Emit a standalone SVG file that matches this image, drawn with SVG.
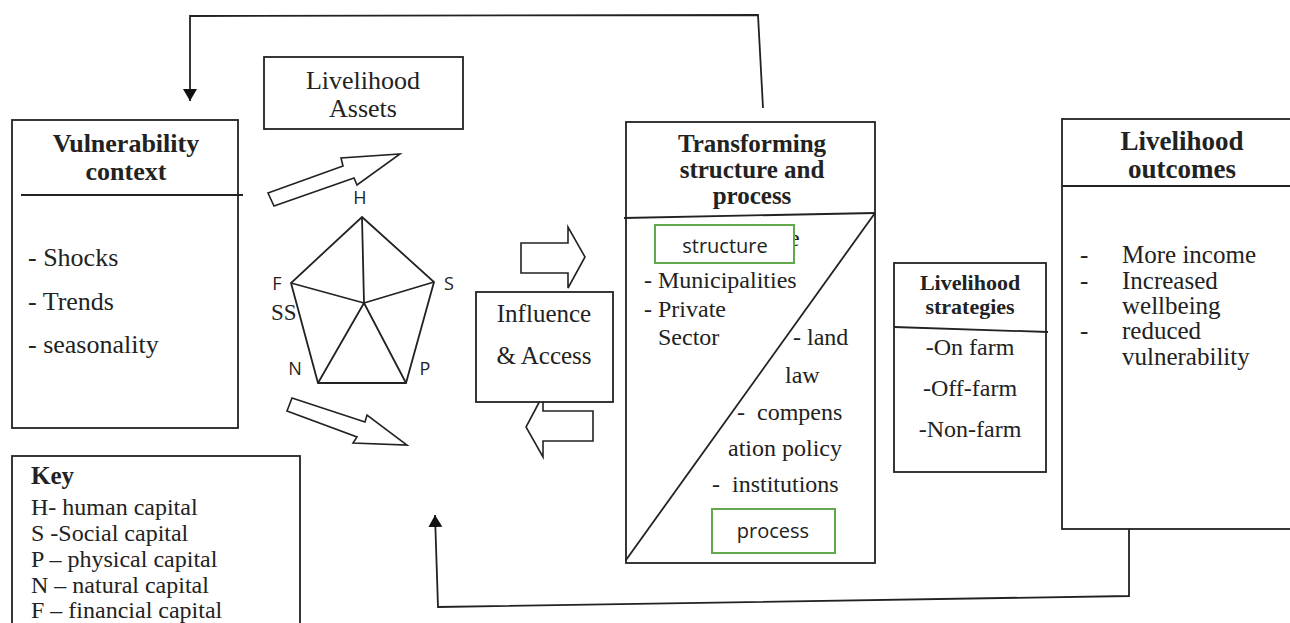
<svg xmlns="http://www.w3.org/2000/svg" width="1290" height="623" viewBox="0 0 1290 623">
<defs>
<style>
.box{fill:#fff;stroke:#222;stroke-width:1.8}
.ln{fill:none;stroke:#222;stroke-width:1.8}
.blk{fill:#fff;stroke:#222;stroke-width:1.6;stroke-linejoin:miter}
.green{fill:#fff;stroke:#62a84f;stroke-width:2}
.s{font-family:"Liberation Serif","Times New Roman",serif;fill:#222}
.b{font-family:"Liberation Serif","Times New Roman",serif;font-weight:bold;fill:#222}
.ss{font-family:"Open Sans","Liberation Sans",sans-serif;fill:#222}
.c{text-anchor:middle}
</style>
<marker id="ah" markerUnits="userSpaceOnUse" markerWidth="16" markerHeight="16" refX="12" refY="7" orient="auto">
<path d="M0,0 L12,7 L0,14 z" fill="#111"/>
</marker>
</defs>

<g id="connectors">
<path class="ln" d="M763,108 L758,15 L190,16 L190,101" marker-end="url(#ah)"/>
<path class="ln" d="M1129,529 L1129,596 L438,607 L435,515" marker-end="url(#ah)"/>
<polygon class="blk" points="268,193 343,166 341,158 400,154 357,185 354,178 274,206"/>
<polygon class="blk" points="292,398 365,422 367,415 407,445 353,443 357,437 287,411"/>
<polygon class="blk" points="521,243 568,243 568,227 585,257 568,288 568,273 521,273"/>
<polygon class="blk" points="593,411 543,411 543,395 526,427 543,457 543,441 593,441"/>
</g>

<g id="vulnerability">
<rect class="box" x="12" y="120" width="226" height="308"/>
<line class="ln" x1="21" y1="195" x2="243" y2="195"/>
<text class="b c" x="126" y="152" font-size="26">Vulnerability</text>
<text class="b c" x="126" y="180" font-size="26">context</text>
<text class="s" x="28" y="266" font-size="26">- Shocks</text>
<text class="s" x="28" y="310" font-size="26">- Trends</text>
<text class="s" x="28" y="353" font-size="26">- seasonality</text>
</g>

<g id="livelihood-assets">
<rect class="box" x="264" y="57" width="199" height="72"/>
<text class="s c" x="363" y="89" font-size="26">Livelihood</text>
<text class="s c" x="363" y="117" font-size="26">Assets</text>
</g>

<g id="pentagon">
<polygon class="ln" points="362,217 434,282 406,383 318,383 291,283"/>
<path class="ln" d="M364,303 L362,217 M364,303 L434,282 M364,303 L406,383 M364,303 L318,383 M364,303 L291,283"/>
<text class="ss c" x="360" y="204" font-size="18">H</text>
<text class="ss c" x="449" y="290" font-size="18">S</text>
<text class="ss c" x="425" y="375" font-size="18">P</text>
<text class="ss c" x="295" y="375" font-size="18">N</text>
<text class="ss c" x="277" y="290" font-size="18">F</text>
<text class="s" x="271" y="320" font-size="23">SS</text>
</g>

<g id="influence">
<rect class="box" x="476" y="292" width="137" height="110"/>
<text class="s c" x="544" y="322" font-size="25">Influence</text>
<text class="s c" x="544" y="364" font-size="25">&amp; Access</text>
</g>

<g id="transforming">
<rect class="box" x="626" y="122" width="249" height="441"/>
<line class="ln" x1="624" y1="218" x2="875" y2="213"/>
<line class="ln" x1="626" y1="560" x2="875" y2="213"/>
<text class="b c" x="752" y="152" font-size="25">Transforming</text>
<text class="b c" x="752" y="178" font-size="25">structure and</text>
<text class="b c" x="752" y="204" font-size="25">process</text>
<text class="s" x="789" y="246" font-size="24">e</text>
<rect class="green" x="655" y="225" width="139" height="38"/>
<text class="ss c" x="725" y="253" font-size="20">structure</text>
<text class="s" x="644" y="288" font-size="24">- Municipalities</text>
<text class="s" x="644" y="317" font-size="24">- Private</text>
<text class="s" x="658" y="345" font-size="24">Sector</text>
<text class="s" x="793" y="345" font-size="24">- land</text>
<text class="s" x="785" y="383" font-size="24">law</text>
<text class="s" x="737" y="420" font-size="24" xml:space="preserve">-  compens</text>
<text class="s" x="728" y="456" font-size="24">ation policy</text>
<text class="s" x="712" y="492" font-size="24" xml:space="preserve">-  institutions</text>
<rect class="green" x="712" y="509" width="123" height="44"/>
<text class="ss c" x="773" y="538" font-size="20">process</text>
</g>

<g id="strategies">
<rect class="box" x="894" y="263" width="152" height="209"/>
<line class="ln" x1="894" y1="327" x2="1048" y2="332"/>
<text class="b c" x="970" y="290" font-size="22">Livelihood</text>
<text class="b c" x="970" y="314" font-size="22">strategies</text>
<text class="s c" x="970" y="355" font-size="24">-On farm</text>
<text class="s c" x="970" y="396" font-size="24">-Off-farm</text>
<text class="s c" x="970" y="437" font-size="24">-Non-farm</text>
</g>

<g id="outcomes">
<rect class="box" x="1062" y="119" width="240" height="410"/>
<line class="ln" x1="1062" y1="186" x2="1290" y2="186"/>
<text class="b c" x="1182" y="150" font-size="27">Livelihood</text>
<text class="b c" x="1182" y="178" font-size="27">outcomes</text>
<text class="s" x="1080" y="263" font-size="25">-</text>
<text class="s" x="1080" y="289" font-size="25">-</text>
<text class="s" x="1080" y="339" font-size="25">-</text>
<text class="s" x="1122" y="263" font-size="25">More income</text>
<text class="s" x="1122" y="289" font-size="25">Increased</text>
<text class="s" x="1122" y="314" font-size="25">wellbeing</text>
<text class="s" x="1122" y="339" font-size="25">reduced</text>
<text class="s" x="1122" y="365" font-size="25">vulnerability</text>
</g>

<g id="key">
<rect class="box" x="12" y="456" width="288" height="180"/>
<text class="b" x="31" y="484" font-size="25">Key</text>
<text class="s" x="31" y="515" font-size="24">H- human capital</text>
<text class="s" x="31" y="541" font-size="24">S -Social capital</text>
<text class="s" x="31" y="567" font-size="24">P – physical capital</text>
<text class="s" x="31" y="593" font-size="24">N – natural capital</text>
<text class="s" x="31" y="618" font-size="24">F – financial capital</text>
</g>
</svg>
